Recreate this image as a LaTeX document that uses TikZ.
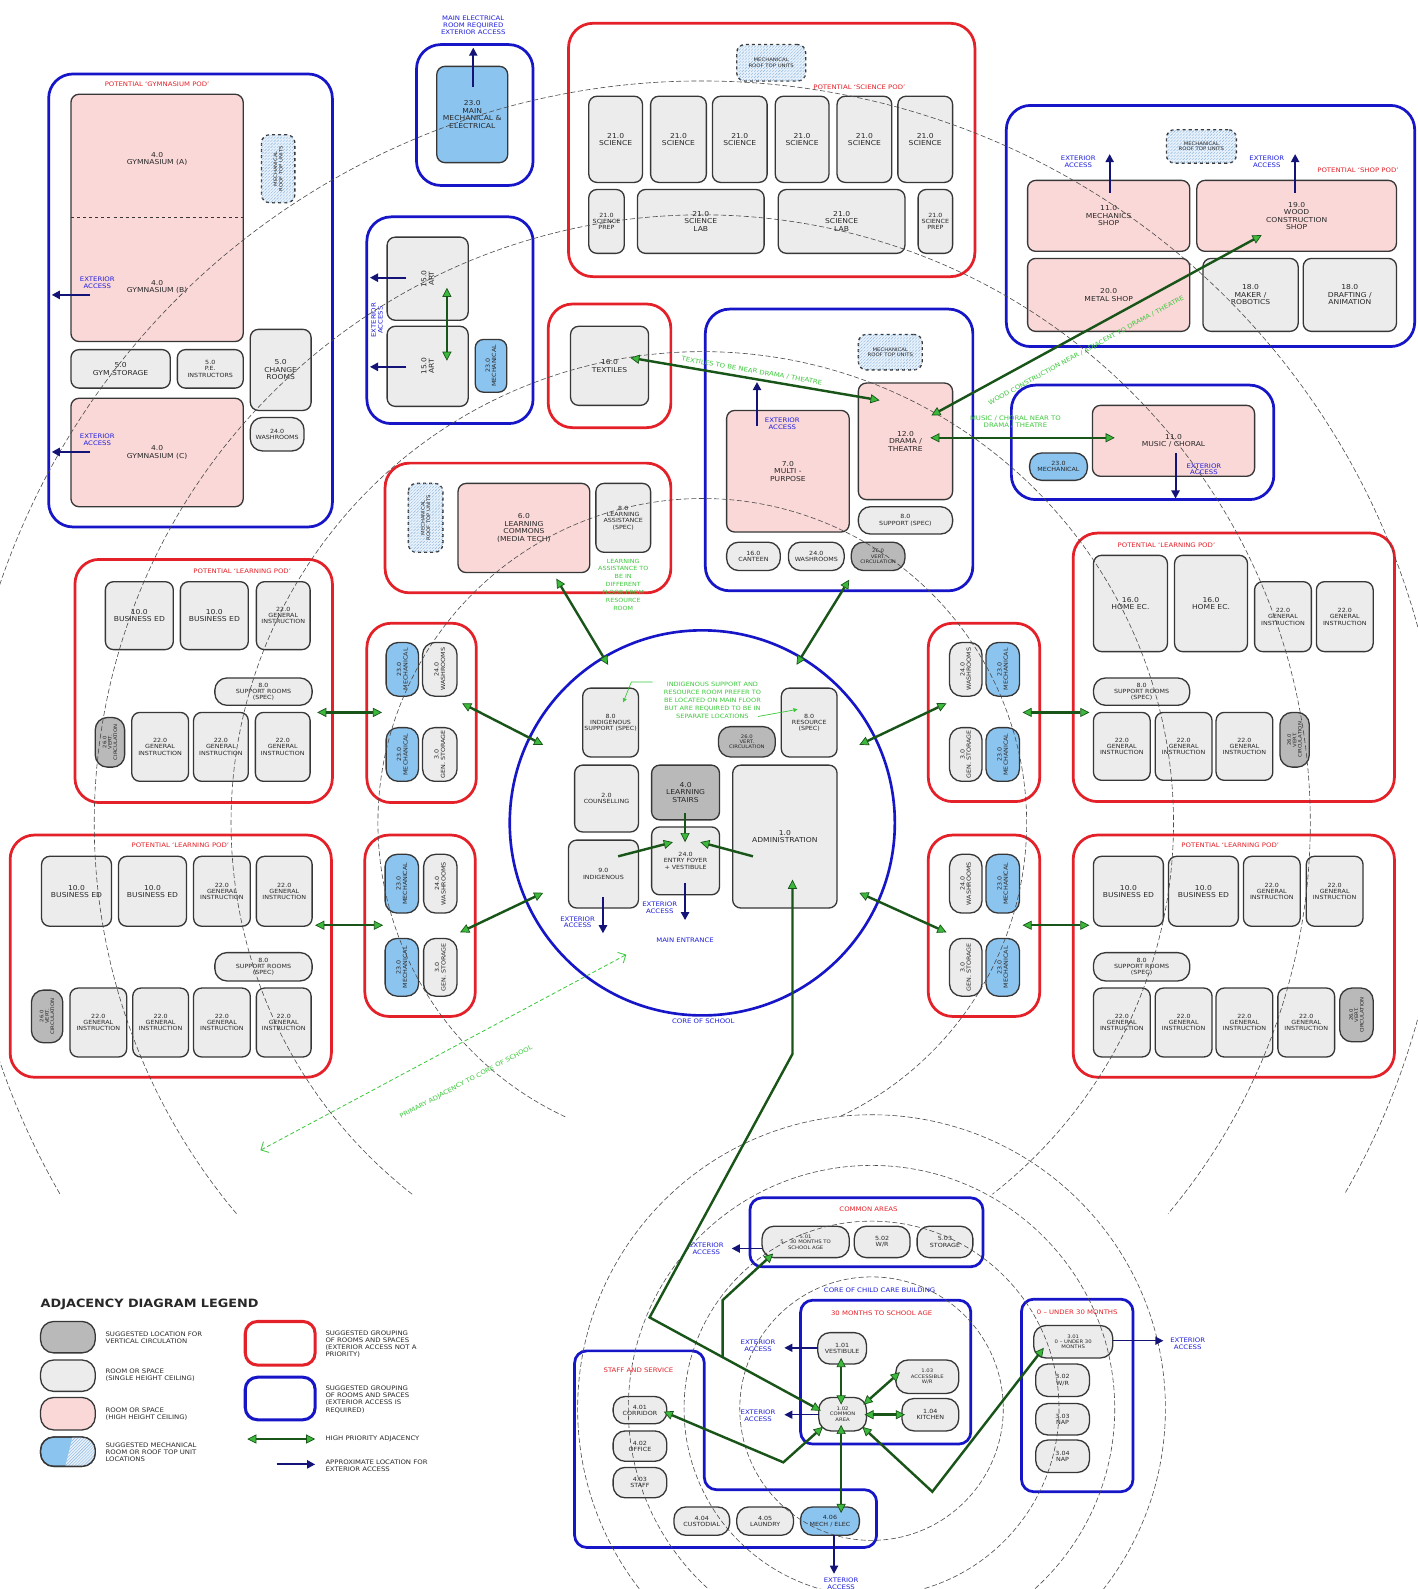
\documentclass[tikz,border=0pt]{standalone}
\usepackage{fontspec}
\setmainfont{DejaVu Sans}[FakeStretch=1.12]
\usetikzlibrary{arrows.meta,patterns,calc}
\definecolor{podred}{RGB}{228,32,40}
\definecolor{podblue}{RGB}{22,22,200}
\definecolor{rline}{RGB}{55,55,55}
\definecolor{rgrey}{RGB}{236,236,236}
\definecolor{rpink}{RGB}{250,216,216}
\definecolor{rdark}{RGB}{185,185,185}
\definecolor{mblue}{RGB}{140,196,240}
\definecolor{rtufill}{RGB}{232,242,252}
\definecolor{rtuhatch}{RGB}{140,180,220}
\definecolor{adjline}{RGB}{25,85,25}
\definecolor{adjhead}{RGB}{60,185,60}
\definecolor{navy}{RGB}{20,20,120}
\definecolor{notegreen}{RGB}{60,200,60}
\definecolor{lblblue}{RGB}{30,30,220}
\definecolor{txt}{RGB}{40,40,40}
\newcommand\rmfs{\fontsize{6.7}{7.3}\selectfont}
\newcommand\smfs{\fontsize{5.6}{6.2}\selectfont}
\newcommand\lbfs{\fontsize{6.1}{6.8}\selectfont}
\newcommand\tnfs{\fontsize{4.7}{5.3}\selectfont}
% room: [style]{name}{x1}{y1}{x2}{y2}{text}
\newcommand\RB[7][]{\node[room,#1,minimum width={#5-#3},minimum height={#6-#4}] (#2) at ({(#3+#5)/2},{(#4+#6)/2}) {#7};}
\newcommand\RV[7][]{\node[room,#1,rotate=90,minimum width={#6-#4},minimum height={#5-#3}] (#2) at ({(#3+#5)/2},{(#4+#6)/2}) {#7};}
\newcommand\POD[6]{\node[#1,minimum width={#5-#3},minimum height={#6-#4}] (#2) at ({(#3+#5)/2},{(#4+#6)/2}) {};}
\begin{document}
\begin{tikzpicture}[x=1pt,y=-1pt,
 room/.style={draw=rline, fill=rgrey, line width=1.3pt, rounded corners=8pt, inner sep=1pt, outer sep=0pt, align=center, font=\rmfs, text=txt},
 pink/.style={fill=rpink},
 dark/.style={fill=rdark},
 mech/.style={fill=mblue},
 sm/.style={font=\smfs},
 rtu/.style={fill=rtufill, dashed, font=\tnfs, postaction={pattern=north east lines, pattern color=rtuhatch}},
 pill/.style={rounded corners=12pt, font=\smfs},
 redpod/.style={draw=podred, line width=2.7pt, rounded corners=24pt, inner sep=0pt, outer sep=0pt},
 bluepod/.style={draw=podblue, line width=2.7pt, rounded corners=24pt, inner sep=0pt, outer sep=0pt},
 ccpod/.style={draw=podblue, line width=2.7pt, rounded corners=12pt, inner sep=0pt, outer sep=0pt},
 adj/.style={draw=adjline, line width=2.4pt, {Triangle[fill=adjhead,length=9pt,width=9pt,line width=0.7pt]}-{Triangle[fill=adjhead,length=9pt,width=9pt,line width=0.7pt]}},
 adjto/.style={draw=adjline, line width=2.4pt, -{Triangle[fill=adjhead,length=9pt,width=9pt,line width=0.7pt]}},
 ext/.style={draw=navy, line width=2pt, -{Triangle[length=8pt,width=8pt]}},
 ring/.style={draw=black!70, line width=0.6pt, dash pattern=on 5pt off 2.5pt},
 redlbl/.style={text=podred, font=\lbfs, inner sep=1pt},
 bluelbl/.style={text=lblblue, font=\lbfs, align=center, inner sep=1pt},
 greenlbl/.style={text=notegreen, font=\lbfs, align=center, inner sep=1pt},
 noteptr/.style={draw=notegreen, line width=0.7pt, -{Triangle[length=4pt,width=4pt]}},
]
\useasboundingbox (0,0) rectangle (1399,1568);
\fill[white] (0,0) rectangle (1399,1568);

%================ GYMNASIUM POD
\POD{bluepod}{gympod}{48}{73}{328}{520}
\node[redlbl] (gymlbl) at (155,83) {POTENTIAL `GYMNASIUM POD'};
\RB[pink]{gymab}{70}{93}{240}{337}{}
\coordinate (gdl) at (70,215); \coordinate (gdr) at (240,215);
\draw[rline, line width=1pt, dashed] (gdl) -- (gdr);
\node[font=\rmfs, align=center, text=txt] (gyma) at (155,157) {4.0\\GYMNASIUM (A)};
\node[font=\rmfs, align=center, text=txt] (gymb) at (155,283) {4.0\\GYMNASIUM (B)};
\RV[rtu]{gymrtu}{258}{133}{291}{200}{MECHANICAL\\ROOF TOP UNITS}
\RB{gymsto}{70}{345}{168}{383}{5.0\\GYM STORAGE}
\RB[sm]{pe}{175}{345}{240}{383}{5.0\\P.E.\\INSTRUCTORS}
\RB{chg}{247}{325}{307}{405}{5.0\\CHANGE\\ROOMS}
\RB[pill]{gymwr}{247}{412}{300}{445}{24.0\\WASHROOMS}
\RB[pink]{gymc}{70}{393}{240}{500}{4.0\\GYMNASIUM (C)}

%================ MAIN ELECTRICAL
\POD{bluepod}{elpod}{411}{44}{526}{183}
\node[room, mech, minimum width=70, minimum height=95, text depth=-14pt] (mainel) at (466,113) {23.0\\MAIN\\MECHANICAL \&\\ELECTRICAL};
\node[bluelbl] (ellbl) at (467,25) {MAIN ELECTRICAL\\ROOM REQUIRED\\EXTERIOR ACCESS};

%================ ART POD
\POD{bluepod}{artpod}{362}{214}{526}{418}
\RV{art1}{382}{234}{462}{316}{15.0\\ART}
\RV{art2}{382}{322}{462}{401}{15.0\\ART}
\RV[mech,sm]{artmech}{469}{335}{500}{387}{23.0\\MECHANICAL}
\node[bluelbl, rotate=90] (artlbl) at (372,316) {EXTERIOR\\ACCESS};

%================ SCIENCE POD
\POD{redpod}{scipod}{561}{23}{962}{273}
\RB[rtu]{scirtu}{727}{44}{795}{80}{MECHANICAL\\ROOF TOP UNITS}
\node[redlbl] (scilbl) at (848,86) {POTENTIAL `SCIENCE POD'};
\RB{s1}{581}{95}{634}{180}{21.0\\SCIENCE}
\RB{s2}{642}{95}{697}{180}{21.0\\SCIENCE}
\RB{s3}{703}{95}{757}{180}{21.0\\SCIENCE}
\RB{s4}{765}{95}{818}{180}{21.0\\SCIENCE}
\RB{s5}{826}{95}{880}{180}{21.0\\SCIENCE}
\RB{s6}{886}{95}{940}{180}{21.0\\SCIENCE}
\RB[sm]{sp1}{581}{187}{616}{250}{21.0\\SCIENCE\\PREP}
\RB{sl1}{629}{187}{754}{250}{21.0\\SCIENCE\\LAB}
\RB{sl2}{768}{187}{893}{250}{21.0\\SCIENCE\\LAB}
\RB[sm]{sp2}{906}{187}{940}{250}{21.0\\SCIENCE\\PREP}

%================ SHOP POD
\POD{bluepod}{shoppod}{993}{104}{1396}{342}
\RB[rtu]{shoprtu}{1151}{128}{1220}{161}{MECHANICAL\\ROOF TOP UNITS}
\node[redlbl] (shoplbl) at (1340,168) {POTENTIAL `SHOP POD'};
\RB[pink]{mshop}{1014}{178}{1174}{248}{11.0\\MECHANICS\\SHOP}
\RB[pink]{wshop}{1181}{178}{1378}{248}{19.0\\WOOD\\CONSTRUCTION\\SHOP}
\RB[pink]{metal}{1014}{255}{1174}{327}{20.0\\METAL SHOP}
\RB{maker}{1187}{255}{1281}{327}{18.0\\MAKER /\\ROBOTICS}
\RB{draft}{1286}{255}{1378}{327}{18.0\\DRAFTING /\\ANIMATION}
\node[bluelbl] (shx1) at (1064,160) {EXTERIOR\\ACCESS};
\node[bluelbl] (shx2) at (1250,160) {EXTERIOR\\ACCESS};

%================ TEXTILES
\POD{redpod}{texpod}{541}{300}{662}{422}
\RB{tex}{563}{322}{640}{400}{16.0\\TEXTILES}

%================ DRAMA POD
\POD{bluepod}{drpod}{696}{305}{960}{583}
\RB[rtu]{drrtu}{847}{330}{910}{365}{MECHANICAL\\ROOF TOP UNITS}
\RB[pink]{multi}{717}{405}{838}{525}{7.0\\MULTI -\\PURPOSE}
\RB[pink]{drama}{847}{378}{940}{493}{12.0\\DRAMA /\\THEATRE}
\RB[pill]{drsup}{847}{500}{940}{527}{8.0\\SUPPORT (SPEC)}
\RB[pill]{cant}{717}{535}{770}{563}{16.0\\CANTEEN}
\RB[pill]{drwr}{778}{535}{833}{563}{24.0\\WASHROOMS}
\RB[pill,dark,font=\tnfs]{drvc}{840}{535}{893}{563}{26.0\\VERT.\\CIRCULATION}
\node[bluelbl] (drx) at (772,418) {EXTERIOR\\ACCESS};

%================ MUSIC POD
\POD{bluepod}{muspod}{998}{380}{1257}{493}
\RB[pink]{music}{1078}{400}{1238}{470}{11.0\\MUSIC / CHORAL}
\RB[mech,pill]{musmech}{1016}{447}{1073}{474}{23.0\\MECHANICAL}
\node[bluelbl] (musx) at (1188,463) {EXTERIOR\\ACCESS};

%================ LEARNING COMMONS POD
\POD{redpod}{lcpod}{380}{457}{662}{585}
\RV[rtu]{lcrtu}{403}{477}{437}{545}{MECHANICAL\\ROOF TOP UNITS}
\RB[pink]{lc}{452}{477}{582}{565}{6.0\\LEARNING\\COMMONS\\(MEDIA TECH)}
\RB[sm]{la}{588}{477}{642}{545}{8.0\\LEARNING\\ASSISTANCE\\(SPEC)}
\node[greenlbl, font=\fontsize{5.6}{7.8}\selectfont] (lanote) at (615,577) {LEARNING\\ASSISTANCE TO\\BE IN\\DIFFERENT\\FLOOR FROM\\RESOURCE\\ROOM};

%================ CORE OF SCHOOL
\node[draw=podblue, line width=2.6pt, circle, minimum size=380, inner sep=0pt] (core) at (693,812) {};
\RB[sm]{indsup}{575}{679}{630}{747}{8.0\\INDIGENOUS\\SUPPORT (SPEC)}
\RB[sm]{res}{771}{679}{826}{747}{8.0\\RESOURCE\\(SPEC)}
\RB[dark,pill,font=\tnfs]{corevc}{709}{717}{765}{747}{26.0\\VERT.\\CIRCULATION}
\RB[sm]{couns}{567}{755}{630}{821}{2.0\\COUNSELLING}
\RB[dark]{stairs}{643}{755}{710}{809}{4.0\\LEARNING\\STAIRS}
\RB[sm]{foyer}{643}{816}{710}{883}{24.0\\ENTRY FOYER\\+ VESTIBULE}
\RB[sm]{ind}{561}{829}{630}{896}{9.0\\INDIGENOUS}
\RB{admin}{723}{755}{826}{896}{1.0\\ADMINISTRATION}
\node[greenlbl, font=\fontsize{5.8}{7.9}\selectfont] (corenote) at (703,691) {INDIGENOUS SUPPORT AND\\RESOURCE ROOM PREFER TO\\BE LOCATED ON MAIN FLOOR\\BUT ARE REQUIRED TO BE IN\\SEPARATE LOCATIONS};
\node[bluelbl] (indx) at (570,910) {EXTERIOR\\ACCESS};
\node[bluelbl] (foyx) at (651,896) {EXTERIOR\\ACCESS};
\node[bluelbl] (mainent) at (676,928) {MAIN ENTRANCE};
\node[bluelbl] (corelbl) at (694,1008) {CORE OF SCHOOL};

%================ LEFT UPPER LEARNING POD
\POD{redpod}{lp1}{74}{552}{328}{792}
\node[redlbl] (lp1lbl) at (239,564) {POTENTIAL `LEARNING POD'};
\RB{lp1a}{104}{574}{171}{641}{10.0\\BUSINESS ED}
\RB{lp1b}{178}{574}{245}{641}{10.0\\BUSINESS ED}
\RB[sm]{lp1c}{253}{574}{306}{641}{22.0\\GENERAL\\INSTRUCTION}
\RB[pill]{lp1s}{212}{669}{308}{696}{8.0\\SUPPORT ROOMS\\(SPEC)}
\RB[sm]{lp1d}{130}{703}{186}{771}{22.0\\GENERAL\\INSTRUCTION}
\RB[sm]{lp1e}{191}{703}{245}{771}{22.0\\GENERAL\\INSTRUCTION}
\RB[sm]{lp1f}{252}{703}{306}{771}{22.0\\GENERAL\\INSTRUCTION}
\RV[dark,pill,font=\tnfs]{lp1v}{94}{708}{123}{757}{26.0\\VERT.\\CIRCULATION}
\POD{redpod}{sq1}{362}{615}{470}{792}
\RV[mech,pill]{sq1a}{381}{634}{413}{687}{23.0\\MECHANICAL}
\RV[pill]{sq1b}{417}{634}{451}{687}{24.0\\WASHROOMS}
\RV[mech,pill]{sq1c}{381}{718}{413}{771}{23.0\\MECHANICAL}
\RV[pill]{sq1d}{417}{718}{451}{771}{3.0\\GEN. STORAGE}

%================ RIGHT UPPER LEARNING POD
\POD{redpod}{sq2}{916}{615}{1026}{791}
\RV[pill]{sq2a}{937}{634}{969}{687}{24.0\\WASHROOMS}
\RV[mech,pill]{sq2b}{973}{634}{1006}{687}{23.0\\MECHANICAL}
\RV[pill]{sq2c}{937}{718}{969}{771}{3.0\\GEN. STORAGE}
\RV[mech,pill]{sq2d}{973}{718}{1006}{771}{23.0\\MECHANICAL}
\POD{redpod}{rp1}{1059}{526}{1376}{791}
\node[redlbl] (rp1lbl) at (1151,538) {POTENTIAL `LEARNING POD'};
\RB{rp1a}{1079}{548}{1152}{643}{16.0\\HOME EC.}
\RB{rp1b}{1159}{548}{1231}{643}{16.0\\HOME EC.}
\RB[sm]{rp1c}{1238}{574}{1294}{643}{22.0\\GENERAL\\INSTRUCTION}
\RB[sm]{rp1d}{1299}{574}{1355}{643}{22.0\\GENERAL\\INSTRUCTION}
\RB[pill]{rp1s}{1079}{669}{1174}{696}{8.0\\SUPPORT ROOMS\\(SPEC)}
\RB[sm]{rp1e}{1079}{703}{1135}{770}{22.0\\GENERAL\\INSTRUCTION}
\RB[sm]{rp1f}{1140}{703}{1196}{770}{22.0\\GENERAL\\INSTRUCTION}
\RB[sm]{rp1g}{1200}{703}{1256}{770}{22.0\\GENERAL\\INSTRUCTION}
\RV[dark,pill,font=\tnfs]{rp1v}{1263}{703}{1292}{757}{26.0\\VERT.\\CIRCULATION}

%================ LEFT LOWER LEARNING POD
\POD{redpod}{lp2}{10}{824}{327}{1063}
\node[redlbl] (lp2lbl) at (178,834) {POTENTIAL `LEARNING POD'};
\RB{lp2a}{41}{845}{110}{914}{10.0\\BUSINESS ED}
\RB{lp2b}{117}{845}{184}{914}{10.0\\BUSINESS ED}
\RB[sm]{lp2c}{191}{845}{247}{914}{22.0\\GENERAL\\INSTRUCTION}
\RB[sm]{lp2d}{253}{845}{308}{914}{22.0\\GENERAL\\INSTRUCTION}
\RB[pill]{lp2s}{212}{940}{308}{968}{8.0\\SUPPORT ROOMS\\(SPEC)}
\RB[sm]{lp2e}{69}{975}{125}{1043}{22.0\\GENERAL\\INSTRUCTION}
\RB[sm]{lp2f}{131}{975}{186}{1043}{22.0\\GENERAL\\INSTRUCTION}
\RB[sm]{lp2g}{191}{975}{247}{1043}{22.0\\GENERAL\\INSTRUCTION}
\RB[sm]{lp2h}{253}{975}{307}{1043}{22.0\\GENERAL\\INSTRUCTION}
\RV[dark,pill,font=\tnfs]{lp2v}{31}{977}{62}{1029}{26.0\\VERT.\\CIRCULATION}
\POD{redpod}{sq3}{360}{824}{469}{1003}
\RV[mech,pill]{sq3a}{380}{843}{413}{901}{23.0\\MECHANICAL}
\RV[pill]{sq3b}{418}{843}{451}{901}{24.0\\WASHROOMS}
\RV[mech,pill]{sq3c}{380}{926}{413}{983}{23.0\\MECHANICAL}
\RV[pill]{sq3d}{418}{926}{451}{983}{3.0\\GEN. STORAGE}

%================ RIGHT LOWER LEARNING POD
\POD{redpod}{sq4}{916}{824}{1026}{1003}
\RV[pill]{sq4a}{937}{843}{969}{901}{24.0\\WASHROOMS}
\RV[mech,pill]{sq4b}{973}{843}{1006}{901}{23.0\\MECHANICAL}
\RV[pill]{sq4c}{937}{926}{969}{983}{3.0\\GEN. STORAGE}
\RV[mech,pill]{sq4d}{973}{926}{1006}{983}{23.0\\MECHANICAL}
\POD{redpod}{rp2}{1059}{824}{1376}{1063}
\node[redlbl] (rp2lbl) at (1214,834) {POTENTIAL `LEARNING POD'};
\RB{rp2a}{1079}{845}{1148}{914}{10.0\\BUSINESS ED}
\RB{rp2b}{1153}{845}{1222}{914}{10.0\\BUSINESS ED}
\RB[sm]{rp2c}{1227}{845}{1283}{914}{22.0\\GENERAL\\INSTRUCTION}
\RB[sm]{rp2d}{1289}{845}{1345}{914}{22.0\\GENERAL\\INSTRUCTION}
\RB[pill]{rp2s}{1079}{940}{1174}{968}{8.0\\SUPPORT ROOMS\\(SPEC)}
\RB[sm]{rp2e}{1079}{975}{1135}{1043}{22.0\\GENERAL\\INSTRUCTION}
\RB[sm]{rp2f}{1140}{975}{1196}{1043}{22.0\\GENERAL\\INSTRUCTION}
\RB[sm]{rp2g}{1200}{975}{1256}{1043}{22.0\\GENERAL\\INSTRUCTION}
\RB[sm]{rp2h}{1261}{975}{1317}{1043}{22.0\\GENERAL\\INSTRUCTION}
\RV[dark,pill,font=\tnfs]{rp2v}{1322}{975}{1355}{1028}{26.0\\VERT.\\CIRCULATION}

%================ CHILD CARE
\POD{ccpod}{compod}{740}{1182}{970}{1250}
\node[redlbl] (comlbl) at (857,1193) {COMMON AREAS};
\RB[pill,font=\tnfs]{c501}{752}{1210}{838}{1241}{5.01\\5 -- 30 MONTHS TO\\SCHOOL AGE}
\RB[pill]{c502}{843}{1210}{898}{1241}{5.02\\W/R}
\RB[pill]{c503}{905}{1210}{960}{1241}{5.03\\STORAGE}
\node[bluelbl] (c5x) at (697,1232) {EXTERIOR\\ACCESS};
\node[bluelbl] (cclbl) at (868,1273) {CORE OF CHILD CARE BUILDING};
\POD{ccpod}{p30}{790}{1283}{958}{1425}
\node[redlbl] (p30lbl) at (870,1296) {30 MONTHS TO SCHOOL AGE};
\RB[pill]{c101}{807}{1315}{855}{1346}{1.01\\VESTIBULE}
\RB[pill,font=\tnfs]{c103}{884}{1342}{946}{1375}{1.03\\ACCESSIBLE\\W/R}
\RB[pill,font=\tnfs]{c102}{808}{1379}{855}{1412}{1.02\\COMMON\\AREA}
\RB[pill]{c104}{890}{1380}{946}{1412}{1.04\\KITCHEN}
\node[bluelbl] (c101x) at (748,1328) {EXTERIOR\\ACCESS};
\node[bluelbl] (c102x) at (748,1397) {EXTERIOR\\ACCESS};
\POD{ccpod}{p0}{1008}{1282}{1118}{1472}
\node[redlbl] (p0lbl) at (1063,1295) {0 -- UNDER 30 MONTHS};
\RB[pill,font=\tnfs]{c301}{1020}{1308}{1098}{1340}{3.01\\0 -- UNDER 30\\MONTHS}
\RB[pill]{c302}{1022}{1346}{1075}{1378}{3.02\\W/R}
\RB[pill]{c303}{1022}{1385}{1075}{1416}{3.03\\NAP}
\RB[pill]{c304}{1022}{1421}{1075}{1453}{3.04\\NAP}
\node[bluelbl] (c301x) at (1172,1326) {EXTERIOR\\ACCESS};
\draw[draw=podblue, line width=2.7pt, rounded corners=12pt] (567,1333) -- (695,1333) -- (695,1470) -- (865,1470) -- (865,1527) -- (567,1527) -- cycle;
\node[redlbl] (stlbl) at (630,1352) {STAFF AND SERVICE};
\RB[pill]{c401}{605}{1378}{658}{1405}{4.01\\CORRIDOR}
\RB[pill]{c402}{605}{1412}{658}{1442}{4.02\\OFFICE}
\RB[pill]{c403}{605}{1448}{658}{1478}{4.03\\STAFF}
\RB[pill]{c404}{665}{1487}{720}{1515}{4.04\\CUSTODIAL}
\RB[pill]{c405}{727}{1487}{783}{1515}{4.05\\LAUNDRY}
\RB[pill,mech]{c406}{790}{1487}{848}{1515}{4.06\\MECH / ELEC}
\node[bluelbl] (c406x) at (830,1563) {EXTERIOR\\ACCESS};

%================ DASHED RINGS
\begin{scope}[ring]
\draw (693,812) ++(115:320) arc[start angle=115, end angle=425, radius=320];
\draw (693,812) ++(128:465) arc[start angle=128, end angle=412, radius=465];
\draw (693,812) ++(140:600) arc[start angle=140, end angle=400, radius=600];
\draw (693,812) ++(150:732) arc[start angle=150, end angle=390, radius=732];
\draw (860,1390) circle[radius=130];
\draw (860,1390) circle[radius=185];
\draw (860,1390) circle[radius=240];
\draw (860,1390) circle[radius=290];
\end{scope}

%================ EXTERIOR ACCESS ARROWS
\coordinate (xa1) at (89,291); \coordinate (xb1) at (51,291);
\coordinate (xa2) at (89,446); \coordinate (xb2) at (51,446);
\coordinate (xa3) at (467,86); \coordinate (xb3) at (467,47);
\coordinate (xa4) at (401,274); \coordinate (xb4) at (365,274);
\coordinate (xa5) at (401,362); \coordinate (xb5) at (365,362);
\coordinate (xa6) at (1095,190); \coordinate (xb6) at (1095,152);
\coordinate (xa7) at (1278,190); \coordinate (xb7) at (1278,152);
\coordinate (xa8) at (747,420); \coordinate (xb8) at (747,377);
\coordinate (xa9) at (1160,447); \coordinate (xb9) at (1160,492);
\coordinate (xa10) at (595,885); \coordinate (xb10) at (595,921);
\coordinate (xa11) at (676,871); \coordinate (xb11) at (676,908);
\coordinate (xa12) at (752,1232); \coordinate (xb12) at (722,1232);
\coordinate (xa13) at (807,1330); \coordinate (xb13) at (774,1330);
\coordinate (xa14) at (808,1396); \coordinate (xb14) at (774,1396);
\coordinate (xa15) at (1098,1323); \coordinate (xb15) at (1148,1323);
\coordinate (xa16) at (823,1515); \coordinate (xb16) at (823,1553);
\foreach \i in {1,...,11} {\draw[ext] (xa\i) -- (xb\i);}
\foreach \i in {12,...,16} {\draw[ext, line width=1.5pt] (xa\i) -- (xb\i);}
\node[bluelbl] (gx1) at (96,279) {EXTERIOR\\ACCESS};
\node[bluelbl] (gx2) at (96,434) {EXTERIOR\\ACCESS};

%================ ADJACENCY ARROWS
\coordinate (art1a) at (441,284); \coordinate (art2a) at (441,356);
\draw[adj] (art1a) -- (art2a);
\coordinate (texa) at (622,353); \coordinate (dra) at (868,395);
\draw[adj] (texa) -- (dra);
\coordinate (drb) at (919,410); \coordinate (wsa) at (1245,232);
\draw[adj] (drb) -- (wsa);
\coordinate (drc) at (918,432); \coordinate (musa) at (1100,432);
\draw[adj] (drc) -- (musa);
\coordinate (lca) at (549,571); \coordinate (cr1) at (600,656);
\draw[adj] (lca) -- (cr1);
\coordinate (drd) at (838,572); \coordinate (cr2) at (786,656);
\draw[adj] (drd) -- (cr2);
\coordinate (sq1p) at (456,694); \coordinate (cr3) at (536,735);
\draw[adj] (sq1p) -- (cr3);
\coordinate (sq3p) at (454,920); \coordinate (cr4) at (536,881);
\draw[adj] (sq3p) -- (cr4);
\coordinate (sq2p) at (934,694); \coordinate (cr5) at (848,735);
\draw[adj] (sq2p) -- (cr5);
\coordinate (sq4p) at (934,920); \coordinate (cr6) at (848,881);
\draw[adj] (sq4p) -- (cr6);
\coordinate (lp1p) at (313,703); \coordinate (sq1q) at (377,703);
\draw[adj] (lp1p) -- (sq1q);
\coordinate (lp2p) at (311,913); \coordinate (sq3q) at (378,913);
\draw[adj] (lp2p) -- (sq3q);
\coordinate (sq2q) at (1009,703); \coordinate (rp1p) at (1075,703);
\draw[adj] (sq2q) -- (rp1p);
\coordinate (sq4q) at (1009,913); \coordinate (rp2p) at (1075,913);
\draw[adj] (sq4q) -- (rp2p);
% core internal
\coordinate (sta) at (676,802); \coordinate (foa) at (676,831);
\draw[adjto] (sta) -- (foa);
\coordinate (inda) at (610,845); \coordinate (fob) at (664,831);
\draw[adjto] (inda) -- (fob);
\coordinate (adma) at (743,845); \coordinate (foc) at (691,831);
\draw[adjto] (adma) -- (foc);
% admin to child care
\coordinate (admb) at (782,868); \coordinate (cca) at (810,1392);
\draw[adj] (admb) -- (782,1040) -- (641,1300) -- (cca);
\coordinate (c501a) at (763,1237); \coordinate (jn) at (713,1340);
\draw[adjto] (jn) -- (713,1283) -- (c501a);
\coordinate (c101a) at (830,1340); \coordinate (c102a) at (830,1386);
\draw[adj] (c101a) -- (c102a);
\coordinate (c102b) at (852,1386); \coordinate (c103a) at (888,1354);
\draw[adj] (c102b) -- (c103a);
\coordinate (c102c) at (853,1396); \coordinate (c104a) at (893,1396);
\draw[adj] (c102c) -- (c104a);
\coordinate (c102d) at (830,1406); \coordinate (c406a) at (830,1493);
\draw[adj] (c102d) -- (c406a);
\coordinate (c401a) at (655,1393); \coordinate (c102e) at (812,1408);
\draw[adj] (c401a) -- (773,1443) -- (c102e);
\coordinate (c301a) at (1030,1330); \coordinate (c102f) at (851,1408);
\draw[adj] (c301a) -- (920,1472) -- (c102f);

% green notes and pointers
\node[greenlbl, rotate=-9.7] (texnote) at (742,366) {TEXTILES TO BE NEAR DRAMA / THEATRE};
\node[greenlbl, rotate=28.6] (wsnote) at (1072,346) {WOOD CONSTRUCTION NEAR / ADJACENT TO DRAMA / THEATRE};
\node[greenlbl] (musnote) at (1002,416) {MUSIC / CHORAL NEAR TO\\DRAMA / THEATRE};
\coordinate (np1) at (644,673); \coordinate (np1e) at (615,693);
\draw[noteptr] (np1) -- (623,673) -- (np1e);
\coordinate (np2) at (748,707); \coordinate (np2e) at (787,700);
\draw[noteptr] (np2) -- (np2e);
\coordinate (pa1) at (257,1135); \coordinate (pa2) at (618,942);
\draw[draw=notegreen, line width=0.8pt, dash pattern=on 4pt off 2.5pt, {Straight Barb[length=6pt,width=12pt]}-{Straight Barb[length=6pt,width=12pt]}] (pa1) -- (pa2);
\node[greenlbl, rotate=28] (panote) at (460,1068) {PRIMARY ADJACENCY TO CORE OF SCHOOL};

%================ LEGEND
\node[font=\bfseries\fontsize{11.3}{12}\selectfont, anchor=west, text=txt, inner sep=0pt] (lgt) at (40,1287) {ADJACENCY DIAGRAM LEGEND};
\RB[dark,rounded corners=13pt]{lg1}{40}{1304}{94}{1335}{}
\RB[rounded corners=13pt]{lg2}{40}{1342}{94}{1373}{}
\RB[pink,rounded corners=13pt]{lg3}{40}{1379}{94}{1411}{}
\RB[mech,rounded corners=13pt]{lg4}{40}{1418}{94}{1447}{}
\begin{scope}
\clip (72,1416) -- (96,1416) -- (96,1449) -- (64,1449) -- cycle;
\fill[rtufill, rounded corners=13pt] (40,1418) rectangle (94,1447);
\fill[pattern=north east lines, pattern color=rtuhatch, rounded corners=13pt] (40,1418) rectangle (94,1447);
\end{scope}
\draw[rline, line width=1.3pt, rounded corners=13pt] (40,1418) rectangle (94,1447);
\node[draw=podred, line width=3pt, rounded corners=12pt, minimum width=69, minimum height=43] (lg5) at (276.5,1325.5) {};
\node[draw=podblue, line width=3pt, rounded corners=12pt, minimum width=69, minimum height=42] (lg6) at (276.5,1380) {};
\coordinate (lg7a) at (244,1420); \coordinate (lg7b) at (311,1420);
\draw[adj] (lg7a) -- (lg7b);
\coordinate (lg8a) at (273,1445); \coordinate (lg8b) at (311,1445);
\draw[ext] (lg8a) -- (lg8b);
\begin{scope}[every node/.style={anchor=west, align=left, font=\fontsize{6.1}{7}\selectfont, text=txt, inner sep=0pt}]
\node (lgt1) at (104,1320) {SUGGESTED LOCATION FOR\\VERTICAL CIRCULATION};
\node (lgt2) at (104,1357) {ROOM OR SPACE\\(SINGLE HEIGHT CEILING)};
\node (lgt3) at (104,1395) {ROOM OR SPACE\\(HIGH HEIGHT CEILING)};
\node (lgt4) at (104,1433) {SUGGESTED MECHANICAL\\ROOM OR ROOF TOP UNIT\\LOCATIONS};
\node (lgt5) at (321,1326) {SUGGESTED GROUPING\\OF ROOMS AND SPACES\\(EXTERIOR ACCESS NOT A\\PRIORITY)};
\node (lgt6) at (321,1381) {SUGGESTED GROUPING\\OF ROOMS AND SPACES\\(EXTERIOR ACCESS IS\\REQUIRED)};
\node (lgt7) at (321,1420) {HIGH PRIORITY ADJACENCY};
\node (lgt8) at (321,1446) {APPROXIMATE LOCATION FOR\\EXTERIOR ACCESS};
\end{scope}
\end{tikzpicture}
\end{document}
